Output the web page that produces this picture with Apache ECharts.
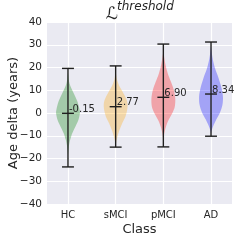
<!DOCTYPE html>
<html><head><meta charset="utf-8">
<script src="https://cdn.jsdelivr.net/npm/echarts@6/dist/echarts.min.js"></script>
<style>html,body{margin:0;padding:0;background:#fff}#c{width:240px;height:241px}</style>
</head><body><div id="c"></div>
<script>
const categories = ['HC', 'sMCI', 'pMCI', 'AD'];
const yTicks = [-40, -30, -20, -10, 0, 10, 20, 30, 40];
const means = [-0.15, 2.77, 6.90, 8.34];
const maxs = [19.6, 20.7, 30.3, 31.2];
const mins = [-23.7, -15.0, -14.9, -10.2];
// violin density profiles: y values and relative half-widths
const hcY = [17.7, 13.0, 8.7, 4.9, 1.2, -0.1, -3.0, -6.0, -8.9, -11.9, -14.8, -17.0, -18.5];
const hcW = [0.0, 0.13, 0.48, 0.8, 0.98, 1.0, 0.88, 0.62, 0.36, 0.18, 0.07, 0.02, 0.0];
const smciY = [18.1, 14.5, 11.6, 8.7, 5.7, 3.5, 1.2, -1.6, -4.5, -7.5, -10.4, -12.6, -14.0];
const smciW = [0.0, 0.12, 0.33, 0.65, 0.93, 1.0, 0.96, 0.82, 0.55, 0.32, 0.15, 0.05, 0.0];
const pmciY = [27.0, 21.8, 17.3, 13.7, 10.1, 6.4, 2.8, -0.1, -3.0, -6.0, -8.9, -11.0, -12.0];
const pmciW = [0.0, 0.16, 0.38, 0.64, 0.88, 1.0, 0.96, 0.75, 0.45, 0.22, 0.08, 0.02, 0.0];
const adY = [29.5, 24.2, 19.8, 15.4, 11.0, 7.3, 3.6, 0.0, -2.9, -5.9, -8.0, -9.0];
const adW = [0.0, 0.13, 0.33, 0.63, 0.88, 1.0, 0.96, 0.74, 0.44, 0.17, 0.04, 0.0];
const profilesY = [hcY, smciY, pmciY, adY];
const profilesW = [hcW, smciW, pmciW, adW];
const colors = ['rgb(0,128,0)', 'rgb(255,165,0)', 'rgb(255,0,0)', 'rgb(0,0,255)'];

const FONT = 'DejaVu Sans';
const TXT = '#262626';
const HALF = 0.25, CAP = 0.125;

const chart = echarts.init(document.getElementById('c'), null, {renderer: 'canvas'});
const positions = categories.map((c, i) => i + 1);

chart.setOption({
  animation: false,
  backgroundColor: '#ffffff',
  graphic: [
    {type: 'text', x: 118, y: 23, style: {text: 'ℒ', fontFamily: FONT, fontSize: 17, fill: TXT,
      textAlign: 'right', textVerticalAlign: 'bottom'}},
    {type: 'text', x: 117, y: 1, style: {text: 'threshold', fontFamily: FONT, fontSize: 12, fontStyle: 'italic',
      fill: TXT, textAlign: 'left', textVerticalAlign: 'top'}}
  ],
  grid: {left: 47, right: 8, top: 22, bottom: 37, show: true, backgroundColor: '#eaeaf2', borderWidth: 0,
    outerBoundsMode: 'none', containLabel: false},
  xAxis: {
    type: 'value', min: 0.56, max: 4.44,
    name: 'Class', nameLocation: 'middle', nameGap: 19, nameMoveOverlap: false,
    nameTextStyle: {fontFamily: FONT, fontSize: 13, color: TXT},
    axisLine: {show: false}, axisTick: {show: false, customValues: positions},
    axisLabel: {customValues: positions, fontFamily: FONT, fontSize: 10, color: TXT, margin: 6,
      formatter: v => categories[Math.round(v) - 1] || ''},
    splitLine: {show: true, lineStyle: {color: '#ffffff', width: 1.2}}
  },
  yAxis: {
    type: 'value', min: -40, max: 40, interval: 10,
    name: 'Age delta (years)', nameLocation: 'middle', nameGap: 27, nameMoveOverlap: false,
    nameTextStyle: {fontFamily: FONT, fontSize: 13, color: TXT},
    axisLine: {show: false}, axisTick: {show: false},
    axisLabel: {fontFamily: FONT, fontSize: 10.5, color: TXT, margin: 5,
      formatter: v => v < 0 ? '\u2212' + Math.abs(v) : String(v)},
    splitLine: {show: true, lineStyle: {color: '#ffffff', width: 1.2}}
  },
  series: [
    {
      type: 'custom', z: 2,
      data: positions.map(p => [p, 0]),
      renderItem: (params, api) => {
        const i = params.dataIndex, pos = positions[i];
        const ys = profilesY[i], ws = profilesW[i];
        const left = ys.map((y, k) => api.coord([pos - ws[k] * HALF, y]));
        const right = ys.map((y, k) => api.coord([pos + ws[k] * HALF, y])).reverse();
        return {type: 'polygon', shape: {points: left.concat(right), smooth: 0.3},
          style: {fill: colors[i], opacity: 0.3}};
      }
    },
    {
      type: 'custom', z: 3,
      data: positions.map(p => [p, 0]),
      renderItem: (params, api) => {
        const i = params.dataIndex, pos = positions[i];
        const ls = {stroke: '#1f1f1f', lineWidth: 1.4};
        const seg = (x1, y1, x2, y2) => {
          const a = api.coord([x1, y1]), b = api.coord([x2, y2]);
          return {type: 'line', shape: {x1: a[0], y1: a[1], x2: b[0], y2: b[1]}, style: ls};
        };
        const t = api.coord([pos, means[i]]);
        return {type: 'group', children: [
          seg(pos, mins[i], pos, maxs[i]),
          seg(pos - CAP, mins[i], pos + CAP, mins[i]),
          seg(pos - CAP, maxs[i], pos + CAP, maxs[i]),
          seg(pos - CAP, means[i], pos + CAP, means[i]),
          {type: 'text', x: t[0] + 1, y: t[1] - 4,
            style: {text: means[i].toFixed(2), fontFamily: FONT, fontSize: 10, fill: TXT,
              textAlign: 'left', textVerticalAlign: 'middle'}}
        ]};
      }
    }
  ]
});
</script></body></html>
